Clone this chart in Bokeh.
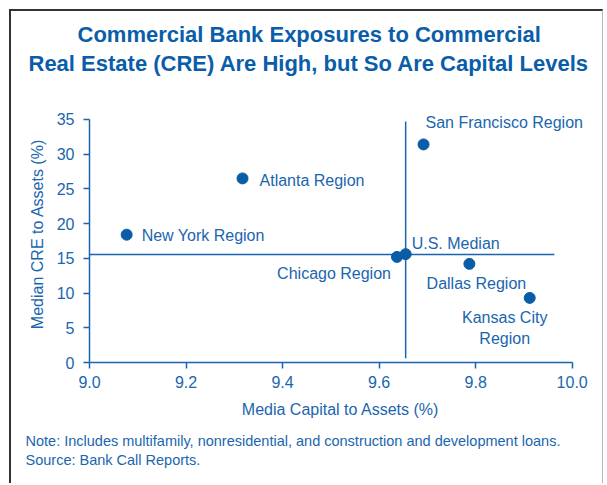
from bokeh.plotting import figure
from bokeh.models import Range1d, FixedTicker, NumeralTickFormatter, ColumnDataSource, Title
from bokeh.core.properties import value
from bokeh.embed import file_html
from bokeh.resources import INLINE

# ---- data ----
regions = ["New York Region", "Atlanta Region", "San Francisco Region", "Chicago Region",
           "U.S. Median", "Dallas Region", "Kansas City\nRegion"]
capital = [9.077, 9.317, 9.692, 9.637, 9.655, 9.787, 9.912]
cre = [18.4, 26.5, 31.4, 15.2, 15.6, 14.2, 9.3]
label_dx = [15, 17, 2, -6, 6, 7, -25]
label_dy = [1, 2, -22, 17, -11, 20, 30]
label_align = ["left", "left", "left", "right", "left", "center", "center"]

median_capital = 9.655
median_cre = 15.55
vline_span = [0.6, 34.7]
hline_span = [9.0, 9.963]

x_ticks = [9.0, 9.2, 9.4, 9.6, 9.8, 10.0]
y_ticks = [0, 5, 10, 15, 20, 25, 30, 35]

title_lines = ["Commercial Bank Exposures to Commercial",
               "Real Estate (CRE) Are High, but So Are Capital Levels"]
x_label = "Media Capital to Assets (%)"
y_label = "Median CRE to Assets (%)"
note_lines = ["Note:  Includes multifamily, nonresidential, and construction and development loans.",
              "Source: Bank Call Reports."]

FONT = "Liberation Sans"
BLUE = "#1a66ae"
DOT = "#0b5ca6"
TITLE_BLUE = "#0a5ea9"

W, H = 594, 474
FW, FH = 502, 257
ML, MT = 78, 94
p = figure(width=W, height=H, output_backend="svg", toolbar_location=None,
           x_range=Range1d(9.0, 10.04), y_range=Range1d(0, 37),
           min_border_left=ML, min_border_right=W - ML - FW,
           min_border_top=MT, min_border_bottom=H - MT - FH)
p.styles = {"margin-left": "9px", "margin-top": "9px",
            "border-left": "2px solid #333333", "border-top": "2px solid #333333",
            "border-right": "1px solid #b8b8b8"}
p.outline_line_color = None
p.grid.grid_line_color = None

for ax in (p.xaxis[0], p.yaxis[0]):
    ax.axis_line_color = BLUE
    ax.axis_line_width = 1.5
    ax.major_tick_line_color = BLUE
    ax.major_tick_line_width = 1.5
    ax.major_tick_out = 6
    ax.major_tick_in = 0
    ax.minor_tick_line_color = None
    ax.major_label_text_font = FONT
    ax.major_label_text_font_size = "16px"
    ax.major_label_text_color = BLUE
    ax.axis_label_text_font = FONT
    ax.axis_label_text_font_size = "16px"
    ax.axis_label_text_font_style = "normal"
    ax.axis_label_text_color = BLUE

p.xaxis.ticker = FixedTicker(ticks=x_ticks)
p.xaxis.formatter = NumeralTickFormatter(format="0.0")
p.xaxis.bounds = (x_ticks[0], x_ticks[-1])
p.yaxis.ticker = FixedTicker(ticks=y_ticks)
p.yaxis.bounds = (y_ticks[0], y_ticks[-1])
p.xaxis.major_label_standoff = 7
p.yaxis.major_label_standoff = 9
p.xaxis.axis_label = x_label
p.yaxis.axis_label = y_label
p.xaxis.axis_label_standoff = 10
p.yaxis.axis_label_standoff = 8

# median lines
p.segment(x0=[median_capital], y0=[vline_span[0]], x1=[median_capital], y1=[vline_span[1]],
          line_color=BLUE, line_width=1.5)
p.segment(x0=[hline_span[0]], y0=[median_cre], x1=[hline_span[1]], y1=[median_cre],
          line_color=BLUE, line_width=1.5)

src = ColumnDataSource(dict(x=capital, y=cre, t=regions, dx=label_dx, dy=label_dy, al=label_align))
p.scatter("x", "y", source=src, size=11, fill_color=DOT, line_color=DOT)
p.text("x", "y", text="t", source=src, x_offset="dx", y_offset="dy", text_align="al",
       text_baseline="middle", text_font=value(FONT), text_font_size="16px",
       text_color=BLUE, text_line_height=1.25)

# spacer between frame and title (first added sits nearest the frame)
p.add_layout(Title(text=" ", standoff=26, text_font_size="1px"), "above")
for t, off in [(title_lines[1], -61), (title_lines[0], -12)]:
    p.add_layout(Title(text=t, align="left", offset=off, standoff=2,
                       text_font=FONT, text_font_size="22px",
                       text_font_style="bold", text_color=TITLE_BLUE), "above")
p.add_layout(Title(text="\n".join(note_lines), align="left", offset=-64, standoff=25,
                   vertical_align="top", text_font=FONT, text_font_size="14.5px",
                   text_font_style="normal", text_color=BLUE, text_line_height=1.2), "below")

open("out.html", "w").write(file_html(p, INLINE))
